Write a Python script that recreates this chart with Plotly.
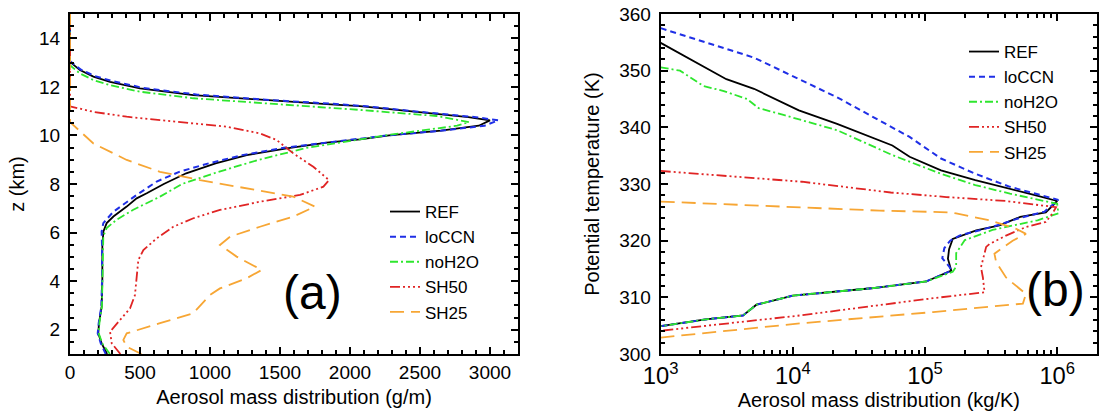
import numpy as np
import plotly.graph_objects as go

names = ["REF", "loCCN", "noH2O", "SH50", "SH25"]
colors = ["#000000", "#1f2fe6", "#2ee62e", "#e02424", "#f7a634"]
dashes = ["solid", "6px,4px", "8px,3px,2px,3px", "10px,3px,2px,3px,2px,3px,2px,3px", "14px,7px"]
widths = [1.8, 2.0, 1.8, 1.8, 1.8]

# ---------------- panel (a): z (km) vs aerosol mass distribution (g/m)
z_ref_a = [1.0, 1.44, 1.85, 2.27, 2.95, 4.05, 5.42, 6.04, 6.39, 6.66, 7.07, 7.41, 7.62, 8.0, 8.44, 8.85, 9.19, 9.47, 9.70, 9.84, 10.0, 10.2, 10.4, 10.62, 10.75, 11.0, 11.21, 11.29, 11.46, 11.66, 11.94, 12.21, 12.42, 12.69, 13.03, 15.0]
m_ref_a = [265, 226, 202, 207, 226, 231, 231, 238, 262, 310, 405, 476, 548, 670, 830, 1040, 1262, 1548, 1833, 2071, 2280, 2650, 2920, 3000, 2845, 2400, 2071, 1833, 1357, 881, 500, 286, 167, 71, 0, 0]

z_loccn_a = [1.0, 1.44, 1.85, 2.27, 2.95, 4.05, 5.42, 6.04, 6.39, 6.86, 7.55, 8.1, 8.5, 8.85, 9.2, 9.5, 9.75, 10.0, 10.2, 10.4, 10.62, 10.75, 11.0, 11.2, 11.3, 11.47, 11.68, 11.96, 12.24, 12.45, 12.72, 13.06, 15.0]
m_loccn_a = [255, 220, 198, 205, 224, 229, 229, 226, 238, 310, 476, 619, 780, 990, 1240, 1540, 1900, 2270, 2660, 2960, 3060, 2900, 2450, 2120, 1880, 1400, 910, 520, 300, 175, 75, 0, 0]

z_noh2o_a = [1.0, 1.44, 1.85, 2.27, 2.95, 4.05, 5.42, 5.85, 6.19, 6.53, 6.94, 7.48, 8.0, 8.16, 8.5, 9.0, 9.5, 10.0, 10.2, 10.4, 10.55, 10.8, 11.05, 11.32, 11.53, 11.80, 12.07, 12.28, 12.55, 12.89, 15.0]
m_noh2o_a = [285, 230, 205, 210, 228, 233, 235, 238, 262, 333, 452, 643, 800, 880, 1060, 1350, 1700, 2250, 2520, 2765, 2850, 2617, 2071, 1357, 881, 500, 286, 167, 71, 0, 0]

z_sh50_a = [1.0, 1.44, 1.92, 2.40, 2.88, 3.43, 4.05, 4.87, 5.28, 5.76, 6.24, 6.59, 6.93, 7.27, 7.55, 7.89, 8.16, 8.71, 9.26, 9.81, 10.08, 10.36, 10.56, 10.77, 10.97, 11.2, 15.0]
m_sh50_a = [360, 298, 286, 357, 429, 464, 476, 488, 524, 619, 738, 881, 1071, 1357, 1643, 1810, 1850, 1738, 1595, 1476, 1357, 1119, 762, 405, 167, 0, 0]

z_sh25_a = [1.0, 1.30, 1.58, 1.85, 2.27, 2.68, 3.43, 3.70, 4.12, 4.46, 5.01, 5.49, 5.83, 6.24, 6.66, 7.07, 7.48, 7.82, 8.16, 8.5, 8.99, 9.67, 10.5, 10.55, 15.0]
m_sh25_a = [510, 405, 381, 405, 643, 881, 1000, 1071, 1262, 1369, 1190, 1071, 1143, 1357, 1595, 1750, 1595, 1262, 929, 643, 405, 167, 12, 0, 0]

# ---------------- panel (b): potential temperature (K) vs aerosol mass distribution (kg/K)
th_ref_b = [354.9, 351.8, 348.5, 346.8, 343.0, 340.6, 336.8, 334.8, 332.4, 330.7, 329.2, 328.0, 327.0, 325.0, 324.2, 322.7, 321.8, 320.3, 318.5, 316.8, 314.7, 312.8, 311.6, 310.3, 308.7, 306.8, 306.1, 304.9]
m_ref_b = [1.0e3, 1.72e3, 3.14e3, 5.08e3, 1.11e4, 2.16e4, 5.66e4, 7.64e4, 1.32e5, 2.40e5, 4.39e5, 6.9e5, 1.0e6, 8.2e5, 5.25e5, 3.66e5, 2.44e5, 1.62e5, 1.52e5, 1.49e5, 1.58e5, 1.02e5, 3.94e4, 1.0e4, 5.3e3, 4.2e3, 2.19e3, 1.0e3]

th_loccn_b = [357.5, 352.3, 345.3, 340.0, 338.3, 334.5, 331.8, 329.5, 328.2, 327.2, 325.1, 324.0, 322.5, 320.9, 320.0, 318.7, 316.9, 315.4, 314.7, 312.8, 311.6, 310.3, 308.7, 306.8, 306.1, 304.9]
m_loccn_b = [1.0e3, 5.08e3, 2.16e4, 5.66e4, 7.64e4, 1.32e5, 2.40e5, 4.39e5, 7.0e5, 1.02e6, 8.0e5, 5.2e5, 3.3e5, 1.82e5, 1.55e5, 1.40e5, 1.35e5, 1.53e5, 1.58e5, 1.02e5, 3.94e4, 1.0e4, 5.3e3, 4.2e3, 2.19e3, 1.0e3]

th_noh2o_b = [350.6, 350.0, 347.3, 346.4, 345.0, 343.4, 342.1, 339.5, 335.1, 331.8, 329.8, 328.3, 326.5, 324.8, 323.6, 321.9, 320.1, 317.8, 315.4, 314.5, 312.8, 311.6, 310.3, 308.7, 306.8, 306.1, 304.9]
m_noh2o_b = [1.0e3, 1.4e3, 2.1e3, 3.0e3, 4.5e3, 5.5e3, 8.75e3, 2.16e4, 5.66e4, 1.32e5, 2.40e5, 4.39e5, 1.0e6, 1.02e6, 7.1e5, 3.24e5, 2.0e5, 1.72e5, 1.72e5, 1.62e5, 1.02e5, 3.94e4, 1.0e4, 5.3e3, 4.2e3, 2.19e3, 1.0e3]

th_sh50_b = [332.3, 330.4, 328.5, 327.7, 327.0, 326.4, 325.9, 324.8, 323.3, 322.4, 320.9, 319.4, 318.9, 315.3, 313.5, 310.9, 309.7, 306.8, 304.1]
m_sh50_b = [1.0e3, 1.17e4, 5.5e4, 1.45e5, 4.1e5, 6.9e5, 9.8e5, 9.2e5, 8.2e5, 5.8e5, 4.1e5, 3.07e5, 2.9e5, 2.65e5, 2.74e5, 2.82e5, 1.02e5, 1.13e4, 1.0e3]

th_sh25_b = [326.9, 325.9, 325.3, 325.0, 324.8, 323.6, 322.1, 321.2, 320.0, 317.7, 316.2, 313.5, 310.6, 308.9, 308.5, 307.4, 305.4, 302.9]
m_sh25_b = [1.0e3, 1.13e4, 4.53e4, 1.53e5, 1.72e5, 3.07e5, 4.89e5, 5.8e5, 4.6e5, 3.35e5, 3.45e5, 4.1e5, 5.8e5, 5.5e5, 3.66e5, 1.15e5, 1.13e4, 1.0e3]

panel_a = [(m_ref_a, z_ref_a), (m_loccn_a, z_loccn_a), (m_noh2o_a, z_noh2o_a), (m_sh50_a, z_sh50_a), (m_sh25_a, z_sh25_a)]
panel_b = [(m_ref_b, th_ref_b), (m_loccn_b, th_loccn_b), (m_noh2o_b, th_noh2o_b), (m_sh50_b, th_sh50_b), (m_sh25_b, th_sh25_b)]

fig = go.Figure()
for i, (xv, yv) in enumerate(panel_a):
    fig.add_trace(go.Scatter(x=xv, y=yv, mode="lines", name=names[i],
                             line=dict(color=colors[i], dash=dashes[i], width=widths[i]),
                             xaxis="x", yaxis="y", legend="legend"))
for i, (xv, yv) in enumerate(panel_b):
    fig.add_trace(go.Scatter(x=xv, y=yv, mode="lines", name=names[i],
                             line=dict(color=colors[i], dash=dashes[i], width=widths[i]),
                             xaxis="x2", yaxis="y2", legend="legend2"))

W, H = 1104, 412
FAM = "Liberation Sans, Arial, sans-serif"
t = dict(automargin=False, showline=True, linecolor="black", mirror="ticks",
         ticks="inside", ticklen=7, tickwidth=2, tickcolor="black",
         minor=dict(ticks="inside", ticklen=4, tickcolor="black"),
         linewidth=2, showgrid=False, zeroline=False,
         tickfont=dict(family=FAM, size=19, color="black"))
tf = dict(family=FAM, size=20, color="black")

fig.update_layout(
    template="none",
    width=W, height=H, margin=dict(l=0, r=0, t=0, b=0), plot_bgcolor="white",
    xaxis=dict(domain=[70 / W, 518 / W], range=[0, 3200], dtick=500, tick0=0, anchor="y",
               title=dict(text="Aerosol mass distribution (g/m)", font=tf, standoff=8),
               ticklabelstandoff=0, **t),
    yaxis=dict(domain=[1 - 354 / H, 1 - 14 / H], range=[1, 15], dtick=2, tick0=0, anchor="x",
               title=dict(text="z (km)", font=tf, standoff=9),
               ticklabelstandoff=4, **t),
    xaxis2=dict(domain=[660.7 / W, 1097 / W], type="log", range=[3, np.log10(2e6)], dtick=1,
                exponentformat="power", showexponent="all", anchor="y2",
                title=dict(text="Aerosol mass distribution (kg/K)", font=tf, standoff=0),
                ticklabelstandoff=0, **t),
    yaxis2=dict(domain=[1 - 354 / H, 1 - 14 / H], range=[300, 360], dtick=10, anchor="x2",
                title=dict(text="Potential temperature (K)", font=tf, standoff=14),
                ticklabelstandoff=4, **t),
    legend=dict(x=385 / W, y=1 - 194 / H, xanchor="left", yanchor="top",
                bgcolor="rgba(0,0,0,0)", font=dict(family=FAM, size=17, color="black")),
    legend2=dict(x=964 / W, y=1 - 34 / H, xanchor="left", yanchor="top",
                 bgcolor="rgba(0,0,0,0)", font=dict(family=FAM, size=17, color="black")),
    annotations=[
        dict(text="(a)", x=312.5 / W, y=1 - 292 / H, xref="paper", yref="paper",
             xanchor="center", yanchor="middle", showarrow=False,
             font=dict(family=FAM, size=48, color="black")),
        dict(text="(b)", x=1055 / W, y=1 - 289 / H, xref="paper", yref="paper",
             xanchor="center", yanchor="middle", showarrow=False,
             font=dict(family=FAM, size=48, color="black")),
    ],
)

fig.write_html("out.html")
